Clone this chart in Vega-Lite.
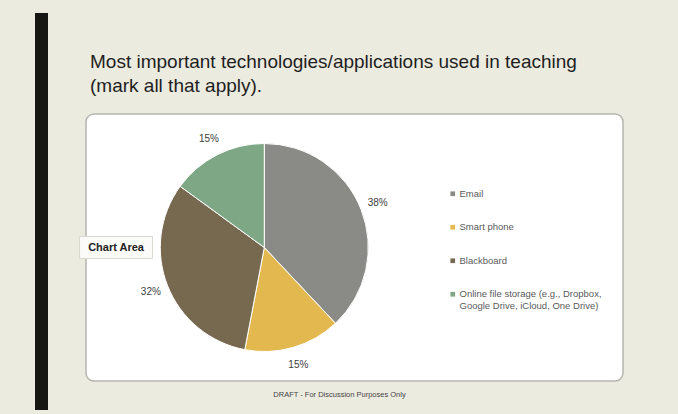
{
  "$schema": "https://vega.github.io/schema/vega-lite/v6.json",
  "background": "#ecebe0",
  "padding": {"left": 35, "top": 10, "right": 55, "bottom": 7},
  "spacing": 28,
  "config": {"font": "Liberation Sans", "view": {"stroke": null}},
  "hconcat": [
    {
      "width": 13,
      "height": 397,
      "data": {"values": [{}]},
      "mark": {"type": "point", "opacity": 0},
      "view": {"fill": "#161612", "stroke": null}
    },
    {
      "spacing": 16,
      "vconcat": [
        {
          "width": 537,
          "height": 1,
          "data": {"values": [{}]},
          "mark": {"type": "point", "opacity": 0},
          "view": {"stroke": null},
          "title": {
            "text": ["Most important technologies/applications used in teaching", "(mark all that apply)."],
            "orient": "bottom",
            "anchor": "start",
            "fontSize": 19,
            "lineHeight": 24,
            "font": "Liberation Sans",
            "fontWeight": "normal",
            "color": "#1e1e1e",
            "offset": 37,
            "dx": 4
          }
        },
        {
          "width": 537,
          "height": 267,
          "view": {"fill": "white", "stroke": "#b5b5b0", "strokeWidth": 1.5, "cornerRadius": 8},
          "data": {
            "values": [
              {"tech": "Email", "pct": 0.38, "order": 1},
              {"tech": "Smart phone", "pct": 0.15, "order": 2},
              {"tech": "Blackboard", "pct": 0.32, "order": 3},
              {"tech": "Online file storage (e.g., Dropbox, Google Drive, iCloud, One Drive)", "pct": 0.15, "order": 4}
            ]
          },
          "layer": [
            {
              "mark": {"type": "arc", "outerRadius": 104, "stroke": "white", "strokeWidth": 1},
              "encoding": {
                "theta": {"field": "pct", "type": "quantitative", "stack": true},
                "order": {"field": "order", "type": "quantitative"},
                "x": {
                  "datum": 0.332,
                  "type": "quantitative",
                  "scale": {"domain": [0, 1]},
                  "axis": {
                    "orient": "bottom",
                    "labels": false,
                    "ticks": false,
                    "domain": false,
                    "grid": false,
                    "title": "DRAFT - For Discussion Purposes Only",
                    "titleFontSize": 7.5,
                    "titleFont": "Liberation Sans",
                    "titleFontWeight": "normal",
                    "titleColor": "#444444",
                    "titlePadding": 9,
                    "titleX": 253
                  }
                },
                "color": {
                  "field": "tech",
                  "type": "nominal",
                  "sort": ["Email", "Smart phone", "Blackboard", "Online file storage (e.g., Dropbox, Google Drive, iCloud, One Drive)"],
                  "scale": {
                    "domain": ["Email", "Smart phone", "Blackboard", "Online file storage (e.g., Dropbox, Google Drive, iCloud, One Drive)"],
                    "range": ["#8a8a86", "#e3b84e", "#77694f", "#7ea785"]
                  },
                  "legend": {
                    "orient": "none",
                    "legendX": 413,
                    "legendY": 176,
                    "title": null,
                    "symbolType": "square",
                    "symbolSize": 22,
                    "symbolStrokeWidth": 0,
                    "labelFontSize": 9.5,
                    "labelColor": "#5a5a5a",
                    "labelFont": "Liberation Sans",
                    "rowPadding": 22.5,
                    "labelLimit": 220,
                    "labelOffset": 2,
                    "labelExpr": "datum.label == 'Online file storage (e.g., Dropbox, Google Drive, iCloud, One Drive)' ? ['Online file storage (e.g., Dropbox,', 'Google Drive, iCloud, One Drive)'] : datum.label"
                  }
                }
              }
            },
            {
              "mark": {"type": "text", "radius": 122, "fontSize": 10, "color": "#404040", "font": "Liberation Sans"},
              "encoding": {
                "theta": {"field": "pct", "type": "quantitative", "stack": true},
                "order": {"field": "order", "type": "quantitative"},
                "x": {"datum": 0.332, "type": "quantitative"},
                "text": {"field": "pct", "type": "quantitative", "format": ".0%"}
              }
            },
            {
              "data": {"values": [{"note": "Chart Area"}]},
              "mark": {"type": "point", "shape": "M-1,-0.3H1V0.3H-1Z", "size": 5329, "filled": true, "fill": "#fbfbf9", "stroke": "#d8d8d2", "strokeWidth": 1, "opacity": 1},
              "encoding": {"x": {"datum": 0.056, "type": "quantitative"}}
            },
            {
              "data": {"values": [{"note": "Chart Area"}]},
              "mark": {"type": "text", "fontSize": 11, "color": "#222222", "font": "Liberation Sans", "fontWeight": "bold"},
              "encoding": {
                "x": {"datum": 0.056, "type": "quantitative"},
                "text": {"field": "note", "type": "nominal"}
              }
            }
          ]
        }
      ]
    }
  ]
}
